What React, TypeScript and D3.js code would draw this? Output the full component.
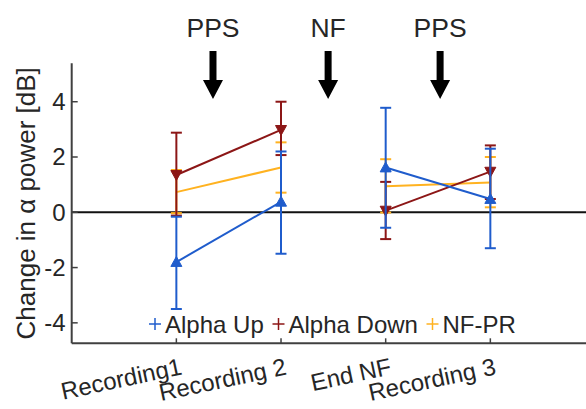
import React from "react";
import * as d3 from "d3";

// Session labels along the x axis
const sessions = ["Recording1", "Recording 2", "End NF", "Recording 3"];

// Mean change in alpha power [dB] per session, with upper / lower error bounds
const alphaUpMean = [-1.8, 0.38, 1.62, 0.48];
const alphaUpHigh = [-0.16, 2.2, 3.78, 2.3];
const alphaUpLow = [-3.5, -1.5, -0.56, -1.3];

const alphaDownMean = [1.35, 2.98, 0.06, 1.47];
const alphaDownHigh = [2.88, 4.0, 1.1, 2.42];
const alphaDownLow = [-0.12, 2.07, -0.97, 0.48];

const nfprMean = [0.73, 1.62, 0.94, 1.08];
const nfprHigh = [1.53, 2.53, 1.92, 2.0];
const nfprLow = [-0.03, 0.71, -0.01, 0.18];

const yTicks = [-4, -2, 0, 2, 4];

// Interventions between sessions, placed at x = 1.35, 2.45, 3.52
const interventions = ["PPS", "NF", "PPS"];
const interventionPos = [1.35, 2.45, 3.52];

type Series = {
  name: string;
  color: string;
  marker: "up" | "down" | "plus";
  mean: number[];
  high: number[];
  low: number[];
};

const series: Series[] = [
  { name: "Alpha Up", color: "#1f5ccc", marker: "up", mean: alphaUpMean, high: alphaUpHigh, low: alphaUpLow },
  { name: "Alpha Down", color: "#8c1616", marker: "down", mean: alphaDownMean, high: alphaDownHigh, low: alphaDownLow },
  { name: "NF-PR", color: "#ffb220", marker: "plus", mean: nfprMean, high: nfprHigh, low: nfprLow },
];

const W = 586;
const H = 409;
const FONT = "Liberation Sans, Arial, Helvetica, sans-serif";

export default function App() {
  const x = d3.scaleLinear().domain([0, 5]).range([71.7, 595]);
  const y = d3.scaleLinear().domain([-4.74, 5.39]).range([343.3, 63.3]);
  const textColor = "#262626";
  const axisColor = "#404040";

  const line = d3
    .line<[number, number]>()
    .x((d) => x(d[0]))
    .y((d) => y(d[1]));

  const cap = 5.5;

  const marker = (s: Series, cx: number, cy: number, key: string) => {
    const r = 5.5;
    if (s.marker === "up") {
      const p = d3.path();
      p.moveTo(cx, cy - r);
      p.lineTo(cx + r, cy + r * 0.8);
      p.lineTo(cx - r, cy + r * 0.8);
      p.closePath();
      return <path key={key} d={p.toString()} fill={s.color} stroke={s.color} strokeWidth={1} />;
    }
    if (s.marker === "down") {
      const p = d3.path();
      p.moveTo(cx, cy + r);
      p.lineTo(cx + r, cy - r * 0.8);
      p.lineTo(cx - r, cy - r * 0.8);
      p.closePath();
      return <path key={key} d={p.toString()} fill={s.color} stroke={s.color} strokeWidth={1} />;
    }
    return null;
  };

  // Draw order: NF-PR underneath, Alpha Up on top
  const drawOrder = [2, 1, 0];

  const legendX = [155, 278.5, 432.5];
  const legendY = 324;

  return (
    <svg width={W} height={H} style={{ position: "absolute", left: 0, top: 0, background: "#fff" }}>
      {/* intervention labels and arrows */}
      {interventions.map((label, i) => {
        const cx = x(interventionPos[i]);
        const p = d3.path();
        p.moveTo(cx - 3.5, 51);
        p.lineTo(cx + 3.5, 51);
        p.lineTo(cx + 3.5, 80);
        p.lineTo(cx + 10, 80);
        p.lineTo(cx, 99);
        p.lineTo(cx - 10, 80);
        p.lineTo(cx - 3.5, 80);
        p.closePath();
        return (
          <g key={"iv" + i}>
            <text x={cx} y={36.5} textAnchor="middle" fontFamily={FONT} fontSize={26.5} fill={textColor}>
              {label}
            </text>
            <path d={p.toString()} fill="#000" />
          </g>
        );
      })}

      {/* zero reference line */}
      <line x1={x(0)} x2={x(5)} y1={y(0)} y2={y(0)} stroke="#111" strokeWidth={2} />

      {/* series */}
      {drawOrder.map((si) => {
        const s = series[si];
        const segA: [number, number][] = [
          [1, s.mean[0]],
          [2, s.mean[1]],
        ];
        const segB: [number, number][] = [
          [3, s.mean[2]],
          [4, s.mean[3]],
        ];
        return (
          <g key={s.name}>
            <path d={line(segA) || ""} fill="none" stroke={s.color} strokeWidth={2} />
            <path d={line(segB) || ""} fill="none" stroke={s.color} strokeWidth={2} />
            {s.mean.map((m, i) => {
              const cx = x(i + 1);
              return (
                <g key={i}>
                  <line x1={cx} x2={cx} y1={y(s.low[i])} y2={y(s.high[i])} stroke={s.color} strokeWidth={2} />
                  <line x1={cx - cap} x2={cx + cap} y1={y(s.low[i])} y2={y(s.low[i])} stroke={s.color} strokeWidth={2} />
                  <line x1={cx - cap} x2={cx + cap} y1={y(s.high[i])} y2={y(s.high[i])} stroke={s.color} strokeWidth={2} />
                  {marker(s, cx, y(m), "m" + i)}
                </g>
              );
            })}
          </g>
        );
      })}

      {/* y axis */}
      <line x1={x(0)} x2={x(0)} y1={y.range()[1]} y2={y.range()[0]} stroke={axisColor} strokeWidth={2} />
      {yTicks.map((t) => (
        <g key={"yt" + t}>
          <line x1={x(0)} x2={x(0) + 6} y1={y(t)} y2={y(t)} stroke={axisColor} strokeWidth={1.5} />
          <text x={x(0) - 6} y={y(t)} dy="0.35em" textAnchor="end" fontFamily={FONT} fontSize={24} fill={textColor}>
            {t}
          </text>
        </g>
      ))}
      <text
        transform={`translate(${35}, ${(y.range()[0] + y.range()[1]) / 2}) rotate(-90)`}
        textAnchor="middle"
        fontFamily={FONT}
        fontSize={26}
        fill={textColor}
      >
        Change in α power [dB]
      </text>

      {/* x axis */}
      <line x1={x(0)} x2={x(5)} y1={y.range()[0]} y2={y.range()[0]} stroke={axisColor} strokeWidth={2} />
      {sessions.map((s, i) => {
        const tx = x(i + 1);
        return (
          <g key={"xt" + i}>
            <line x1={tx} x2={tx} y1={y.range()[0]} y2={y.range()[0] - 5} stroke={axisColor} strokeWidth={1.5} />
            <text
              transform={`translate(${tx + 3}, ${357}) rotate(-12)`}
              textAnchor="end"
              dominantBaseline="hanging"
              fontFamily={FONT}
              fontSize={24}
              fill={textColor}
            >
              {s}
            </text>
          </g>
        );
      })}

      {/* legend */}
      {series.map((s, i) => (
        <g key={"lg" + i}>
          <line x1={legendX[i] - 6} x2={legendX[i] + 6} y1={legendY} y2={legendY} stroke={s.color} strokeWidth={1.5} />
          <line x1={legendX[i]} x2={legendX[i]} y1={legendY - 6} y2={legendY + 6} stroke={s.color} strokeWidth={1.5} />
          <text x={legendX[i] + 10} y={333} fontFamily={FONT} fontSize={24} fill={textColor}>
            {s.name}
          </text>
        </g>
      ))}
    </svg>
  );
}
